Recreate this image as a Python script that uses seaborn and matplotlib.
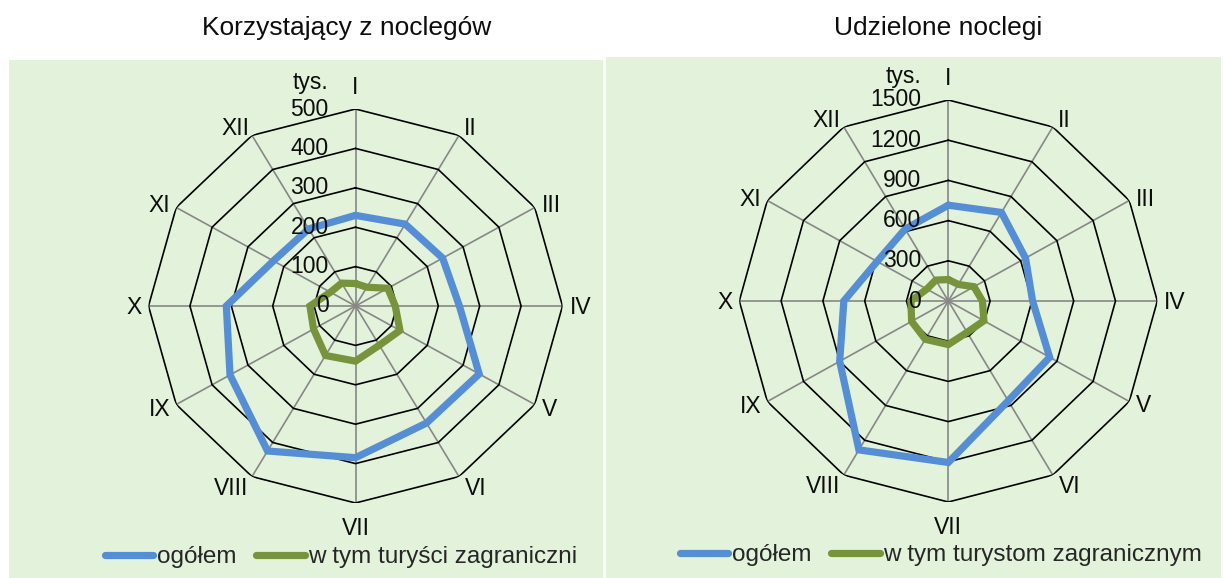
import numpy as np
import pandas as pd
import matplotlib
matplotlib.use("Agg")
import matplotlib.pyplot as plt
import seaborn as sns
from matplotlib.patches import Rectangle
from matplotlib.lines import Line2D

months = ["I", "II", "III", "IV", "V", "VI", "VII", "VIII", "IX", "X", "XI", "XII"]
left_total = [230, 240, 243, 251, 345, 343, 385, 425, 350, 312, 229, 226]
left_foreign = [57, 55, 90, 96, 124, 115, 140, 145, 117, 110, 70, 67]
right_total = [715, 763, 640, 605, 840, 860, 1205, 1283, 900, 750, 590, 620]
right_foreign = [160, 143, 213, 245, 295, 270, 325, 330, 304, 268, 178, 180]
left_ticks = [0, 100, 200, 300, 400, 500]
right_ticks = [0, 300, 600, 900, 1200, 1500]
titles = ["Korzystający z noclegów", "Udzielone noclegi"]
legend_left = ["ogółem", "w tym turyści zagraniczni"]
legend_right = ["ogółem", "w tym turystom zagranicznym"]
unit = "tys."

sns.set_theme(style="white")
plt.rcParams["font.family"] = ["Liberation Sans", "DejaVu Sans"]

W, H = 1223, 578
fig = plt.figure(figsize=(W / 100, H / 100), dpi=100)
fig.patch.set_facecolor("white")

PANEL = "#E3F2DA"
BLUE = "#558ED5"
GREEN = "#77933C"
TXT = "#0d0d0d"

# label placement around the outer polygon: (ha, va, dx px, dy px)
LABEL_POS = [
    ("center", "baseline", 0, 15),    # I
    ("left", "baseline", 5, 0),       # II
    ("left", "baseline", 7, -5),      # III
    ("left", "baseline", 7, -8),      # IV
    ("left", "baseline", 7, -11),     # V
    ("left", "top", 6, 0),            # VI
    ("center", "top", 0, -14),        # VII
    ("right", "top", -4, 0),          # VIII
    ("right", "baseline", -6, -11),   # IX
    ("right", "baseline", -7, -8),    # X
    ("right", "baseline", -6, -5),    # XI
    ("right", "baseline", -3, 0),     # XII
]


def panel(x0, y0, x1, y1):
    fig.patches.append(Rectangle((x0 / W, 1 - y1 / H), (x1 - x0) / W, (y1 - y0) / H,
                                 transform=fig.transFigure, facecolor=PANEL,
                                 edgecolor="none", zorder=-5))


panel(9, 60, 603, 578)
panel(606, 57, 1221, 578)


def radar(cx, cy, rx, ry, total, foreign, ticks, title, tx, labels, lx, ly):
    rmax = ticks[-1]
    ax = fig.add_axes([(cx - rx) / W, 1 - (cy + ry) / H, 2 * rx / W, 2 * ry / H],
                      projection="polar")
    ax.set_zorder(5)
    ax.set_aspect("auto")
    ax.set_facecolor("none")
    ax.patch.set_alpha(0)
    ax.set_theta_zero_location("N")
    ax.set_theta_direction(-1)
    ax.grid(False)
    ax.spines["polar"].set_visible(False)
    ax.set_ylim(0, rmax)

    ang = np.arange(12) * 2 * np.pi / 12
    closed = np.r_[ang, ang[0]]
    for a in ang:
        ax.plot([a, a], [0, rmax], color="#878787", lw=1.2, zorder=1)
    for t in ticks[1:]:
        ax.plot(closed, [t] * 13, color="black", lw=1.2, zorder=2)

    df = pd.DataFrame({
        "theta": np.r_[closed, closed],
        "value": np.r_[total + [total[0]], foreign + [foreign[0]]],
        "series": [labels[0]] * 13 + [labels[1]] * 13,
    })
    sns.lineplot(data=df, x="theta", y="value", hue="series", units="series",
                 estimator=None, sort=False, palette=[BLUE, GREEN], lw=5.2,
                 legend=False, ax=ax, zorder=3)
    for ln in ax.lines[-2:]:
        ln.set_solid_joinstyle("miter")
    ax.set_xlabel("")
    ax.set_ylabel("")
    ax.set_ylim(0, rmax)
    ax.set_xticks([])
    ax.set_yticks([])

    for a, m, (ha, va, dx, dy) in zip(ang, months, LABEL_POS):
        ax.annotate(m, xy=(a, rmax), xytext=(dx, dy), textcoords="offset pixels",
                    ha=ha, va=va, fontsize=16.5, color=TXT, annotation_clip=False)
    for t in ticks:
        ax.annotate(str(t), xy=(0, t), xytext=(-27, 0), textcoords="offset pixels",
                    ha="right", va="center", fontsize=16.5, color=TXT,
                    annotation_clip=False)
    ax.annotate(unit, xy=(0, rmax * 224 / ry), xytext=(-27, 0),
                textcoords="offset pixels", ha="right", va="center",
                fontsize=16.5, color=TXT, annotation_clip=False)

    fig.text(tx / W, 1 - 35 / H, title, ha="center", va="baseline",
             fontsize=19, color=TXT)

    handles = [Line2D([], [], color=BLUE, lw=5.2, solid_capstyle="round"),
               Line2D([], [], color=GREEN, lw=5.2, solid_capstyle="round")]
    fig.legend(handles, labels, loc="center", bbox_to_anchor=(lx / W, 1 - ly / H),
               ncol=2, frameon=False, handlelength=2.0, handletextpad=0.15,
               columnspacing=0.8, fontsize=17.5, borderaxespad=0, borderpad=0)
    return ax


radar(355.5, 306, 207, 197, left_total, left_foreign, left_ticks, titles[0], 347,
      legend_left, 341, 557)
radar(948.3, 301, 209, 201, right_total, right_foreign, right_ticks, titles[1], 938,
      legend_right, 941, 555)

fig.savefig("out.png", dpi=100, facecolor="white")
